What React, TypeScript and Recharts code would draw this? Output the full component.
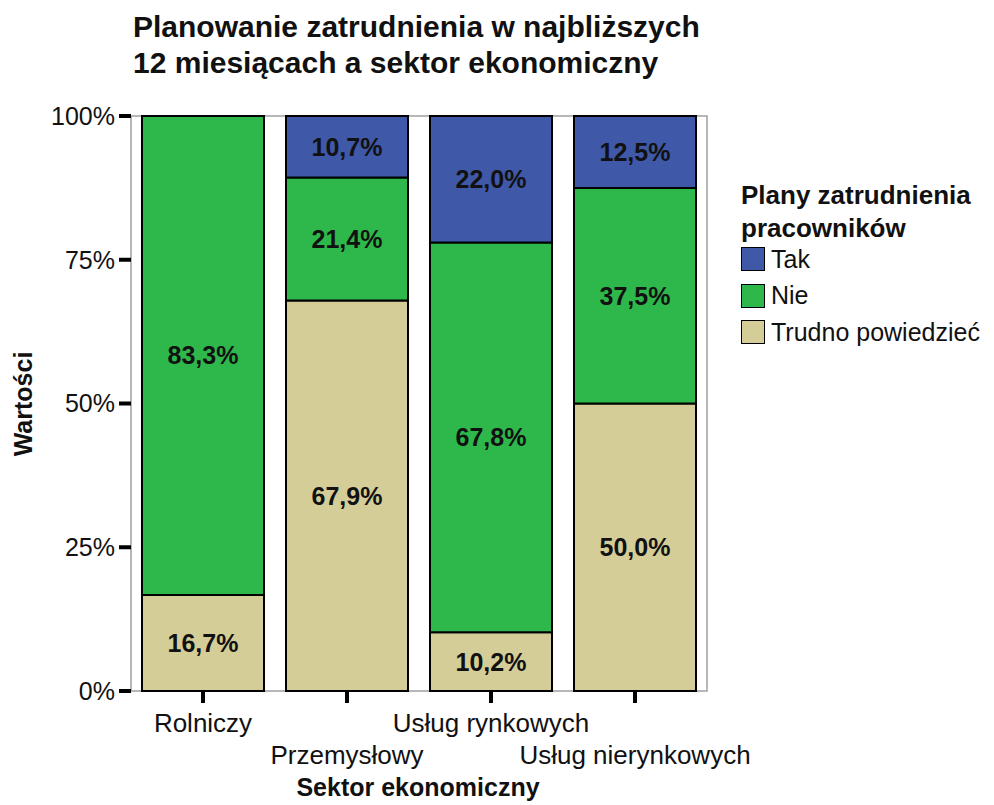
import { BarChart, Bar, XAxis, YAxis, LabelList, ReferenceArea } from 'recharts';

const sectors = ['Rolniczy', 'Przemysłowy', 'Usług rynkowych', 'Usług nierynkowych'];
const takValues = [0, 10.7, 22.0, 12.5];
const nieValues = [83.3, 21.4, 67.8, 37.5];
const trudnoValues = [16.7, 67.9, 10.2, 50.0];
const percentTicks = [0, 25, 50, 75, 100];

const seriesInfo = [
  { key: 'tak', name: 'Tak', color: '#3f58a8' },
  { key: 'nie', name: 'Nie', color: '#2eb84b' },
  { key: 'trudno', name: 'Trudno powiedzieć', color: '#d4cd98' },
];

const data = sectors.map((s, i) => ({
  sector: s,
  tak: takValues[i],
  nie: nieValues[i],
  trudno: trudnoValues[i],
}));

const FONT = '"Liberation Sans", Arial, sans-serif';

const fmtPct = (v: any) => {
  const n = Number(v);
  if (!n) return '';
  return n.toFixed(1).replace('.', ',') + '%';
};

// category labels alternate between two rows so the long names don't collide
function SectorTick(props: any) {
  const { x, y, payload, index } = props;
  const dy = index % 2 === 0 ? 29 : 61;
  return (
    <text x={x} y={y + dy} textAnchor="middle" fontSize={26} fontFamily={FONT} fill="#111">
      {payload.value}
    </text>
  );
}

const labelStyle = { fontSize: 25, fontWeight: 700, fontFamily: FONT, fill: '#111' };

export default function App() {
  return (
    <div style={{ position: 'absolute', left: 0, top: 0, width: 994, height: 805, background: '#fff', fontFamily: FONT, color: '#111', overflow: 'hidden' }}>
      <div style={{ position: 'absolute', left: 133, top: 9, fontSize: 30, fontWeight: 700, lineHeight: '36px', whiteSpace: 'nowrap' }}>
        Planowanie zatrudnienia w najbliższych
        <br />
        12 miesiącach a sektor ekonomiczny
      </div>
      <BarChart
        width={994}
        height={805}
        data={data}
        margin={{ top: 116, right: 287, bottom: 0, left: 0 }}
        barCategoryGap={11}
        style={{ position: 'absolute', left: 0, top: 0 }}
      >
        <ReferenceArea y1={0} y2={100} fill="none" stroke="#a0a0a0" strokeWidth={1.5} ifOverflow="visible" />
        <XAxis
          dataKey="sector"
          height={114}
          axisLine={false}
          tickSize={12}
          tickMargin={0}
          tickLine={{ stroke: '#000', strokeWidth: 4 }}
          tick={<SectorTick />}
          interval={0}
        />
        <YAxis
          width={131}
          domain={[0, 100]}
          ticks={percentTicks}
          tickFormatter={(v) => `${v}%`}
          axisLine={false}
          tickSize={12}
          tickMargin={4}
          tickLine={{ stroke: '#000', strokeWidth: 4 }}
          tick={{ fontSize: 25, fontFamily: FONT, fill: '#111' }}
        />
        <Bar dataKey="trudno" stackId="a" fill="#d4cd98" stroke="#000" strokeWidth={2} isAnimationActive={false}>
          <LabelList dataKey="trudno" position="center" formatter={fmtPct} style={labelStyle} />
        </Bar>
        <Bar dataKey="nie" stackId="a" fill="#2eb84b" stroke="#000" strokeWidth={2} isAnimationActive={false}>
          <LabelList dataKey="nie" position="center" formatter={fmtPct} style={labelStyle} />
        </Bar>
        <Bar dataKey="tak" stackId="a" fill="#3f58a8" stroke="#000" strokeWidth={2} isAnimationActive={false}>
          <LabelList dataKey="tak" position="center" formatter={fmtPct} style={labelStyle} />
        </Bar>
      </BarChart>
      <div
        style={{
          position: 'absolute',
          left: 23,
          top: 404,
          transform: 'translate(-50%, -50%) rotate(-90deg)',
          fontSize: 25,
          fontWeight: 700,
          whiteSpace: 'nowrap',
        }}
      >
        Wartości
      </div>
      <div style={{ position: 'absolute', left: 418, top: 774, transform: 'translateX(-50%)', fontSize: 25, lineHeight: '26px', fontWeight: 700, whiteSpace: 'nowrap' }}>
        Sektor ekonomiczny
      </div>
      <div style={{ position: 'absolute', left: 741, top: 179, whiteSpace: 'nowrap' }}>
        <div style={{ fontSize: 26, fontWeight: 700, lineHeight: '33px', marginBottom: -4 }}>
          Plany zatrudnienia
          <br />
          pracowników
        </div>
        {seriesInfo.map((s) => (
          <div key={s.key} style={{ display: 'flex', alignItems: 'center', height: 36.5, fontSize: 25 }}>
            <span
              style={{
                display: 'inline-block',
                width: 22,
                height: 22,
                background: s.color,
                border: '1.5px solid #000',
                marginRight: 6,
              }}
            />
            {s.name}
          </div>
        ))}
      </div>
    </div>
  );
}
